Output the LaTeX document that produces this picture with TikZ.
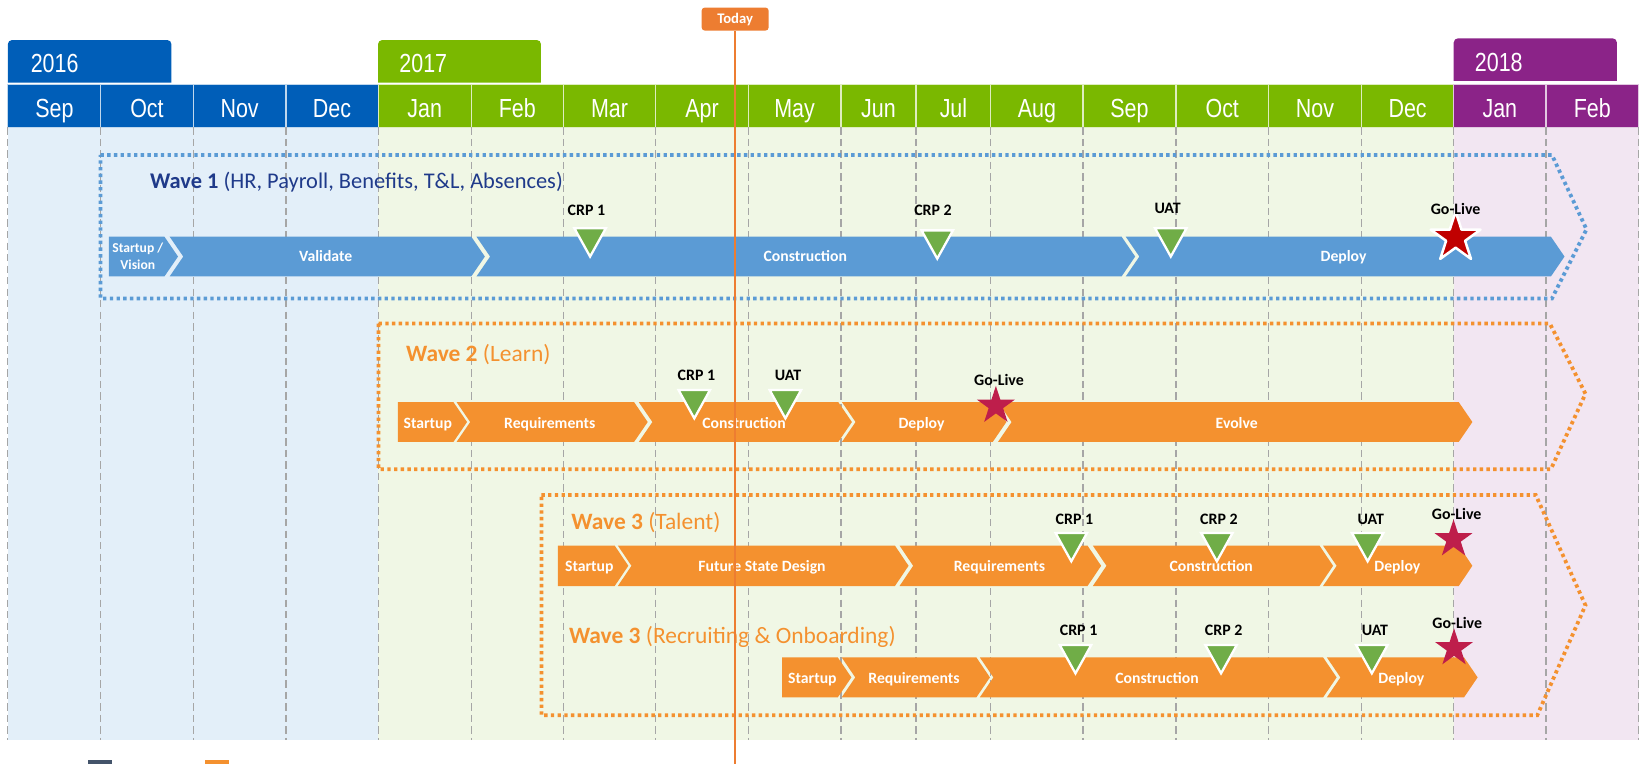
\documentclass[tikz,border=0pt]{standalone}
\usepackage{fontspec}
\setmainfont{Carlito}
\newfontfamily\narrowfont[FakeStretch=0.82]{Liberation Sans}
\usetikzlibrary{shapes.geometric}
\definecolor{hblue}{HTML}{005EB8}
\definecolor{hgreen}{HTML}{7AB800}
\definecolor{hpurple}{HTML}{8B2388}
\definecolor{bgblue}{HTML}{E3EFF9}
\definecolor{bggreen}{HTML}{F0F7E5}
\definecolor{bgpink}{HTML}{F2E6F2}
\definecolor{wblue}{HTML}{5B9BD5}
\definecolor{worange}{HTML}{F4912F}
\definecolor{navy}{HTML}{1F3A8A}
\definecolor{msgreen}{HTML}{70AD47}
\definecolor{gored}{HTML}{C00000}
\definecolor{gocrim}{HTML}{BE1E4B}
\definecolor{todayor}{HTML}{ED7D31}
\definecolor{gridgray}{HTML}{A6A6A6}
\definecolor{legdark}{HTML}{44546A}
\newcommand\segA[5]{\fill[#5] (#1,#3) -- (#2,#3) -- (#2+13,{(#3+#4)/2}) -- (#2,#4) -- (#1,#4) -- cycle;}
\newcommand\segB[5]{\fill[#5] (#1,#3) -- (#2,#3) -- (#2+13,{(#3+#4)/2}) -- (#2,#4) -- (#1,#4) -- (#1+13,{(#3+#4)/2}) -- cycle;}
\newcommand\msTri[2]{\filldraw[tri] (#1-15,#2+1) -- (#1+15,#2+1) -- (#1,#2+28) -- cycle;}
\begin{document}
\begin{tikzpicture}[x=0.5pt,y=-0.5pt,
  mon/.style={font=\narrowfont\fontsize{12.5}{14}\selectfont, text=white, anchor=base, inner sep=0pt},
  yr/.style={font=\narrowfont\fontsize{12.5}{14}\selectfont, text=white, anchor=base west, inner sep=0pt},
  grid/.style={gridgray, line width=0.5pt, dash pattern=on 3.5pt off 2pt},
  wbox/.style={line width=1.8pt, dash pattern=on 1.6pt off 1.6pt},
  wavet/.style={font=\fontsize{11.2}{13}\selectfont, anchor=base west, inner sep=0pt},
  segl/.style={font=\bfseries\fontsize{7.5}{9}\selectfont, text=white, anchor=base, inner sep=0pt},
  msl/.style={font=\bfseries\fontsize{7.6}{9}\selectfont, text=black, anchor=base, inner sep=0pt},
  tri/.style={fill=msgreen, draw=white, line width=1.1pt},
  bigstar/.style={star, star points=5, star point ratio=2.618, inner sep=0pt, minimum size=25pt, fill=gored, draw=white, line width=1.2pt, line join=round},
  smstar/.style={star, star points=5, star point ratio=2.618, inner sep=0pt, minimum size=19pt, fill=gocrim},
  todaybox/.style={fill=todayor, rounded corners=1.5pt, minimum width=32pt, minimum height=11pt, inner sep=0pt, text=white, font=\bfseries\fontsize{7}{8}\selectfont}
]
\useasboundingbox (0,0) rectangle (1568,729);
\clip (0,0) rectangle (1568,729);
% backgrounds
\fill[bgblue] (7.6,121.6) rectangle (361,706.6);
\fill[bggreen] (361,121.6) rectangle (1388.2,706.6);
\fill[bgpink] (1388.2,121.6) rectangle (1564.7,706.6);
% year tabs
\fill[hblue] (7.5,79) [rounded corners=2pt] -- (7.5,38.2) -- (163.7,38.2) [sharp corners] -- (163.7,79) -- cycle;
\fill[hgreen] (361,79) [rounded corners=2pt] -- (361,38.2) -- (516.6,38.2) [sharp corners] -- (516.6,79) -- cycle;
\fill[hpurple] (1388.2,77.3) [rounded corners=2pt] -- (1388.2,36.6) -- (1544,36.6) [sharp corners] -- (1544,77.3) -- cycle;
\node[yr] (y2016) at (29,69.4) {2016};
\node[yr] (y2017) at (381,69.4) {2017};
\node[yr] (y2018) at (1408,68) {2018};
% months
\foreach \a/\b/\m/\c [count=\i] in {7.6/96.2/Sep/hblue, 96.2/184.5/Oct/hblue, 184.5/273.1/Nov/hblue, 273.1/361/Dec/hblue,
  361/450.2/Jan/hgreen, 450.2/537.8/Feb/hgreen, 537.8/626.4/Mar/hgreen, 626.4/714.5/Apr/hgreen, 714.5/803.1/May/hgreen,
  803.1/874.7/Jun/hgreen, 874.7/946.3/Jul/hgreen, 946.3/1034.2/Aug/hgreen, 1034.2/1123/Sep/hgreen, 1123/1211.3/Oct/hgreen,
  1211.3/1300.1/Nov/hgreen, 1300.1/1388.2/Dec/hgreen, 1388.2/1476.3/Jan/hpurple, 1476.3/1564.7/Feb/hpurple} {
  \filldraw[fill=\c, draw=white!75!\c, line width=0.5pt] (\a,80.5) rectangle (\b,121.6);
  \node[mon] (m\i) at ({(\a+\b)/2},112) {\m};
}
% grid
\foreach \x in {7.6,96.2,184.5,273.1,361,450.2,537.8,626.4,714.5,803.1,874.7,946.3,1034.2,1123,1211.3,1300.1,1388.2,1476.3,1564.7}
  \draw[grid] (\x,121.6) -- (\x,706.6);
% wave boxes
\draw[wbox, wblue] (96,148) -- (1482,148) -- (1515,219) -- (1482,285) -- (96,285) -- cycle;
\draw[wbox, worange] (361.5,309) -- (1480,309) -- (1514,376) -- (1481,448) -- (361.5,448) -- cycle;
\draw[wbox, worange] (517,472.7) -- (1466.5,472.7) -- (1514,578) -- (1468,683) -- (517,683) -- cycle;
% wave titles
\node[wavet, text=navy, font=\fontsize{10.7}{13}\selectfont] (w1t) at (143,179.7) {\textbf{Wave 1} (HR, Payroll, Benefits, T\&L, Absences)};
\node[wavet, text=worange] (w2t) at (387.4,345.4) {\textbf{Wave 2} (Learn)};
\node[wavet, text=worange] (w3t) at (545.3,506) {\textbf{Wave 3} (Talent)};
\node[wavet, text=worange] (w4t) at (543,614.3) {\textbf{Wave 3} (Recruiting \& Onboarding)};
% wave 1 bar
\segA{104}{157}{226}{264}{wblue}
\segB{162}{450}{226}{264}{wblue}
\segB{455}{1071}{226}{264}{wblue}
\segB{1075}{1481}{226}{264}{wblue}
\node[font=\bfseries\fontsize{6.5}{8}\selectfont, text=white, align=center, inner sep=0pt] (w1s1) at (131.6,245) {Startup /\\Vision};
\node[segl] (w1s2) at (311,250) {Validate};
\node[segl] (w1s3) at (769,250) {Construction};
\node[segl] (w1s4) at (1283,250) {Deploy};
% wave 2 bar
\segA{380}{433}{384}{422}{worange}
\segB{436}{605.5}{384}{422}{worange}
\segB{610}{800.5}{384}{422}{worange}
\segB{804}{948}{384}{422}{worange}
\segB{953}{1393}{384}{422}{worange}
\node[segl] (w2s1) at (408.5,409) {Startup};
\node[segl] (w2s2) at (525,409) {Requirements};
\node[segl] (w2s3) at (710.5,409) {Construction};
\node[segl] (w2s4) at (880,409) {Deploy};
\node[segl] (w2s5) at (1181,409) {Evolve};
% wave 3 talent bar
\segA{532.7}{587}{521}{559.6}{worange}
\segB{590}{854.6}{521}{559.6}{worange}
\segB{859}{1038.5}{521}{559.6}{worange}
\segB{1043.6}{1260}{521}{559.6}{worange}
\segB{1263.4}{1393}{521}{559.6}{worange}
\node[segl] (w3s1) at (562.7,545.5) {Startup};
\node[segl] (w3s2) at (727.7,545.5) {Future State Design};
\node[segl] (w3s3) at (954.4,545.5) {Requirements};
\node[segl] (w3s4) at (1156.6,545.5) {Construction};
\node[segl] (w3s5) at (1334.4,545.5) {Deploy};
% wave 3 recruiting bar
\segA{746.8}{800}{627.7}{666}{worange}
\segB{803.7}{932.3}{627.7}{666}{worange}
\segB{935.6}{1263.4}{627.7}{666}{worange}
\segB{1267}{1398}{627.7}{666}{worange}
\node[segl] (w4s1) at (775.8,652.5) {Startup};
\node[segl] (w4s2) at (872.8,652.5) {Requirements};
\node[segl] (w4s3) at (1104.9,652.5) {Construction};
\node[segl] (w4s4) at (1338.2,652.5) {Deploy};
% milestones wave 1
\msTri{563.5}{217}
\msTri{895}{219}
\msTri{1118}{217}
\node[msl] (w1m1) at (560,205.5) {CRP 1};
\node[msl] (w1m2) at (891,206) {CRP 2};
\node[msl] (w1m3) at (1115,204) {UAT};
\node[bigstar] (w1g) at (1390,227) {};
\node[msl] (w1m4) at (1390,205) {Go-Live};
% milestones wave 2
\msTri{663}{371.5}
\msTri{750}{371.5}
\node[msl] (w2m1) at (665,363) {CRP 1};
\node[msl] (w2m2) at (752.5,363) {UAT};
\node[smstar] (w2g) at (951,387.5) {};
\node[msl] (w2m3) at (954,368.5) {Go-Live};
% milestones wave 3 talent
\msTri{1023}{508}
\msTri{1162}{508}
\msTri{1306}{508}
\node[msl] (w3m1) at (1026,501) {CRP 1};
\node[msl] (w3m2) at (1164,501) {CRP 2};
\node[msl] (w3m3) at (1309,501) {UAT};
\node[smstar] (w3g) at (1388,515) {};
\node[msl] (w3m4) at (1391,496) {Go-Live};
% milestones wave 3 recruiting
\msTri{1027}{615}
\msTri{1166}{615}
\msTri{1310}{615}
\node[msl] (w4m1) at (1030,606.6) {CRP 1};
\node[msl] (w4m2) at (1168.5,606.6) {CRP 2};
\node[msl] (w4m3) at (1313,606.6) {UAT};
\node[smstar] (w4g) at (1388.5,619) {};
\node[msl] (w4m4) at (1391.6,600) {Go-Live};
% legend squares (cut off)
\fill[legdark] (83.8,725.7) rectangle (107,740);
\fill[worange] (195.8,725.7) rectangle (218.7,740);
% today
\node[todaybox] (today) at (702,18.2) {Today};
\coordinate (todayend) at (702,740);
\draw[todayor, line width=1pt] (today.south) -- (todayend);
\end{tikzpicture}
\end{document}
